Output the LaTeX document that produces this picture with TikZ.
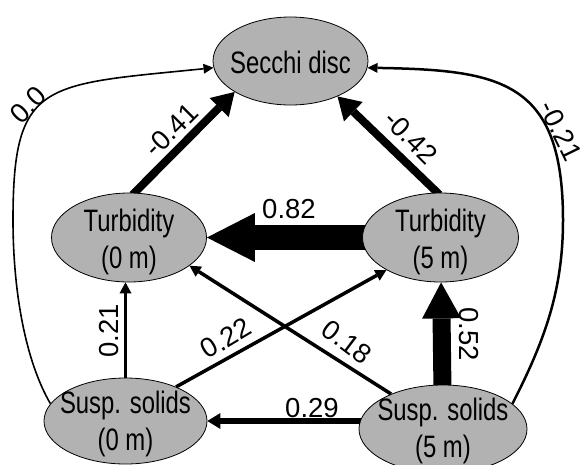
\documentclass[tikz,border=0pt]{standalone}
\usepackage{fontspec}
\setmainfont{Liberation Sans}
\newfontfamily\narrowfont[FakeStretch=0.77]{Liberation Sans}
\usetikzlibrary{arrows.meta,shapes.geometric,backgrounds}
\definecolor{nodegray}{RGB}{178,178,178}
\begin{document}
\begin{tikzpicture}[x=1pt,y=-1pt,
  var/.style={ellipse, draw=black, line width=0.8pt, fill=nodegray, inner sep=0pt},
  vartext/.style={inner sep=0pt, align=center, font=\narrowfont\fontsize{31}{37}\selectfont},
  lab/.style={font=\fontsize{27.5}{30}\selectfont, inner sep=1pt},
  thinarrow/.style={line width=3.5pt, -{Triangle[length=11pt,width=12pt,line width=0pt]}},
  curvearrow/.style={-{Triangle[length=10pt,width=10pt,line width=0pt]}},
  ]
\useasboundingbox (0,0) rectangle (586,464);
\node[var, minimum width=155pt, minimum height=88pt] (sd) at (290.5,61) {};
\node[var, minimum width=155pt, minimum height=89pt] (t0) at (129,237.5) {};
\node[var, minimum width=156pt, minimum height=89pt] (t5) at (440.5,237.5) {};
\node[var, minimum width=163pt, minimum height=86pt] (s0) at (125.5,421) {};
\node[var, minimum width=168pt, minimum height=88pt] (s5) at (443,429) {};

\node[vartext] (sdtext) at ([yshift=-1pt]sd.center) {Secchi disc};
\node[vartext] (t0text) at ([yshift=-4pt]t0.center) {Turbidity\\(0 m)};
\node[vartext] (t5text) at ([yshift=-4pt]t5.center) {Turbidity\\(5 m)};
\node[vartext] (s0text) at ([yshift=-3pt]s0.center) {Susp. solids\\(0 m)};
\node[vartext] (s5text) at ([yshift=-2pt]s5.center) {Susp. solids\\(5 m)};

\begin{pgfonlayer}{background}
\draw[line width=8pt, -{Triangle[length=22pt,width=27pt,line width=0pt]}, shorten <=-3pt] (t0.83) -- (sd.209);
\draw[line width=8pt, -{Triangle[length=22pt,width=27pt,line width=0pt]}, shorten <=-3pt] (t5.94) -- (sd.323);
\draw[line width=25pt, -{Triangle[length=48pt,width=49pt,line width=0pt]}, shorten <=-5pt] (t5) -- (t0);
\draw[line width=18pt, -{Triangle[length=36pt,width=39pt,line width=0pt]}, shorten <=-4pt] (s5) -- (t5);
\draw[line width=6pt, -{Triangle[length=13pt,width=16pt,line width=0pt]}, shorten <=-2pt] (s0.east -| s5.west) -- (s0.east);
\draw[thinarrow] (s0.north) -- (s0.north |- t0.south);
\draw[thinarrow] (s0.34) -- (t5.211);
\draw[thinarrow] (s5.146) -- (t0.335);
\draw[curvearrow, line width=1.6pt] (s0.167) .. controls (25,360) and (13,290) .. (13,220)
   .. controls (13,80) and (43,85) .. (sd.185);
\draw[curvearrow, line width=2.5pt] (s5.20) .. controls (545,340) and (563,290) .. (563,220)
   .. controls (563,80) and (500,70) .. (sd.355);
\end{pgfonlayer}

\node[lab, rotate=45] (l00) at (28,105) {0.0};
\node[lab, rotate=45] (l41) at (171,130) {-0.41};
\node[lab, rotate=-45] (l42) at (411,137) {-0.42};
\node[lab, rotate=-64] (l21b) at (561,131) {-0.21};
\node[lab] (l82) at (289,209) {0.82};
\node[lab, rotate=90] (l21) at (109,331) {0.21};
\node[lab, rotate=31] (l22) at (226,338) {0.22};
\node[lab, rotate=-37] (l18) at (347,342) {0.18};
\node[lab, rotate=-90] (l52) at (469,334) {0.52};
\node[lab] (l29) at (312,408) {0.29};
\end{tikzpicture}
\end{document}
